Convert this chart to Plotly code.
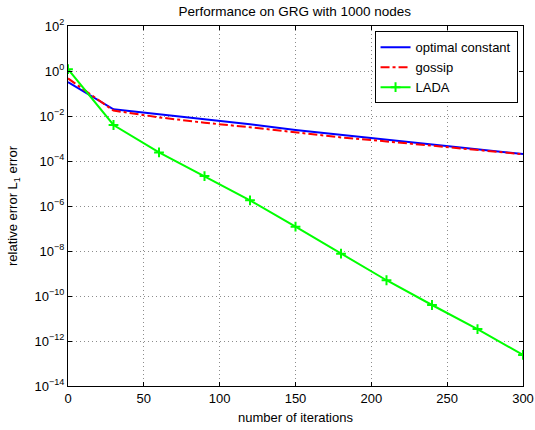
import plotly.graph_objects as go

iters = [0, 30, 60, 90, 120, 150, 180, 210, 240, 270, 300]
# log10 of errors
opt_log = [-0.49, -1.70, -1.92, -2.14, -2.37, -2.62, -2.84, -3.04, -3.26, -3.47, -3.69]
gossip_log = [-0.33, -1.76, -2.06, -2.30, -2.50, -2.72, -2.95, -3.13, -3.33, -3.52, -3.70]
lada_log = [0.08, -2.40, -3.62, -4.67, -5.75, -6.92, -8.12, -9.30, -10.40, -11.47, -12.62]

opt = [10 ** v for v in opt_log]
gossip = [10 ** v for v in gossip_log]
lada = [10 ** v for v in lada_log]

ytick_exp = [2, 0, -2, -4, -6, -8, -10, -12, -14]
xtick_vals = [0, 50, 100, 150, 200, 250, 300]

FONT = "Liberation Sans, Arial, Helvetica, sans-serif"
GRID = dict(showgrid=True, gridcolor="rgb(140,140,140)", griddash="1px,3px", gridwidth=1)

fig = go.Figure()
fig.add_trace(go.Scatter(x=iters, y=opt, mode="lines", name="optimal constant",
                         line=dict(color="rgb(0,0,255)", width=2)))
fig.add_trace(go.Scatter(x=iters, y=gossip, mode="lines", name="gossip",
                         line=dict(color="rgb(255,0,0)", width=2, dash="dashdot")))
fig.add_trace(go.Scatter(x=iters, y=lada, mode="lines+markers", name="LADA",
                         line=dict(color="rgb(0,255,0)", width=2),
                         marker=dict(symbol="cross-thin", size=7,
                                     line=dict(color="rgb(0,255,0)", width=2))))

fig.update_layout(
    width=535, height=430,
    margin=dict(l=67.5, r=11.5, t=26, b=44.3, pad=0, autoexpand=False),
    paper_bgcolor="white", plot_bgcolor="white",
    font=dict(family=FONT, size=13, color="black"),
    title=dict(text="Performance on GRG with 1000 nodes", x=0.551, xanchor="center",
               y=0.973, yanchor="middle", font=dict(size=13.5)),
    showlegend=True,
    legend=dict(x=0.988, y=0.985, xanchor="right", yanchor="top",
                bordercolor="black", borderwidth=1, bgcolor="white",
                font=dict(size=13), tracegroupgap=0, itemwidth=30),
)
fig.update_xaxes(range=[0, 300.0001], tickvals=xtick_vals, automargin=False,
                 showline=True, linecolor="black", linewidth=1, mirror="allticks",
                 ticks="inside", ticklen=4, tickcolor="black",
                 zeroline=False, **GRID,
                 title=dict(text="number of iterations", font=dict(size=13), standoff=8),
                 tickfont=dict(size=13))
fig.update_yaxes(type="log", range=[-14, 2], automargin=False,
                 tickvals=[10 ** e for e in ytick_exp],
                 ticktext=["10<sup>%s</sup>" % (str(e).replace("-", "\u2212")) for e in ytick_exp],
                 showline=True, linecolor="black", linewidth=1, mirror="allticks",
                 ticks="inside", ticklen=4, tickcolor="black",
                 zeroline=False, **GRID,
                 title=dict(text="relative error L<sub>1</sub> error", font=dict(size=13), standoff=13),
                 tickfont=dict(size=13))

fig.write_html("out.html", config={"displayModeBar": False},
               post_script="document.body.style.margin='0';document.body.style.overflow='hidden';")
